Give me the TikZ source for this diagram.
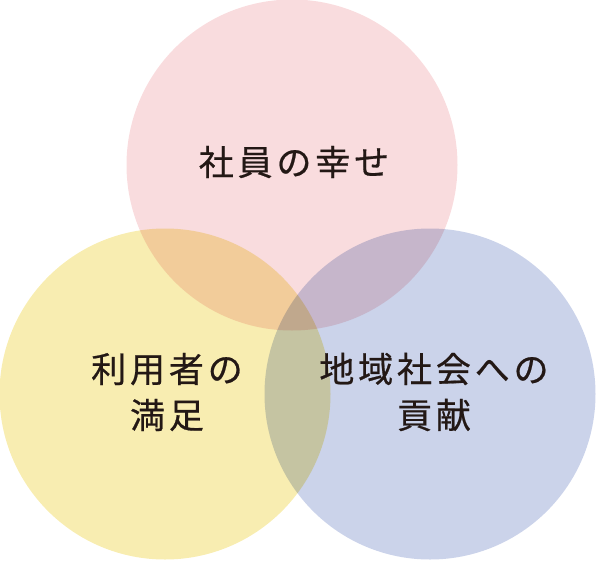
\documentclass[tikz,border=0pt]{standalone}
\usepackage{fontspec}
\newfontfamily\jpfont[LetterSpace=11,FakeBold=0.6]{Noto Sans CJK JP}
\definecolor{venPink}{HTML}{F9DCDE}
\definecolor{venYellow}{HTML}{F8EDB1}
\definecolor{venBlue}{HTML}{CBD3EA}
\definecolor{venText}{HTML}{231815}

\begin{document}
\begin{tikzpicture}[x=1pt,y=-1pt,
    ring/.style={circle,minimum size=331pt,inner sep=0pt},
    lbl/.style={font=\jpfont\fontsize{35}{46}\selectfont,text=venText,
                align=center,inner sep=0pt}]
  \useasboundingbox (0,0) rectangle (600,560);
  % three circles, multiplied where they overlap
  \begin{scope}[blend group=multiply]
    \node[ring,fill=venPink]   (staff) at (292,165) {};
    \node[ring,fill=venYellow] (users) at (165,394) {};
    \node[ring,fill=venBlue]   (local) at (430,394) {};
  \end{scope}
  \node[lbl] (staffTxt) at (294,162) {社員の幸せ};
  \node[lbl] (usersTxt) at (167,392) {利用者の\\満足};
  \node[lbl] (localTxt) at (434,392) {地域社会への\\貢献};
\end{tikzpicture}
\end{document}
